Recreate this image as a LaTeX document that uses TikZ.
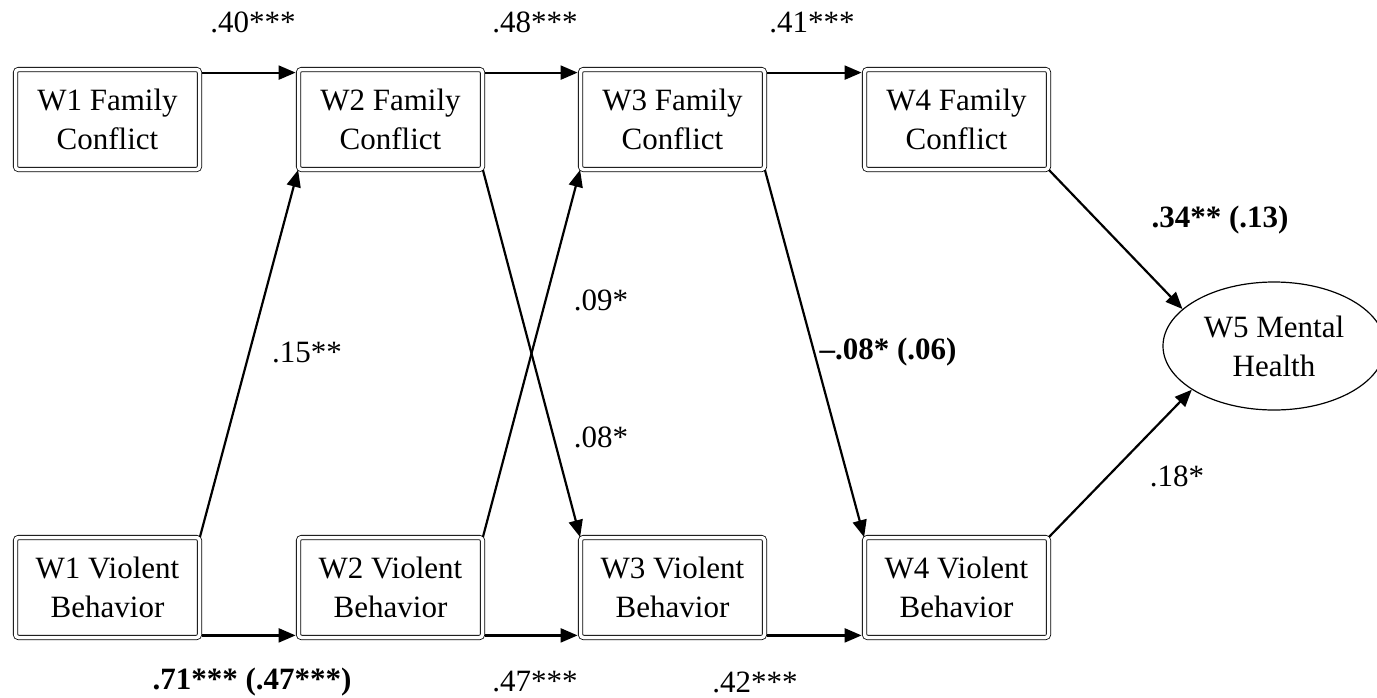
\documentclass[tikz,border=0pt]{standalone}
\usepackage{fontspec}
\setmainfont{Liberation Serif}
\usetikzlibrary{arrows.meta,shapes.geometric,calc}
\begin{document}
\begin{tikzpicture}[x=1pt,y=-1pt,
  varbox/.style={draw,double,double distance=3.5pt,line width=0.8pt,
    rounded corners=3pt,minimum width=184pt,minimum height=100pt,
    inner sep=0pt,align=center,font=\fontsize{31}{39}\selectfont},
  outcome/.style={draw,ellipse,line width=1.2pt,minimum width=222pt,
    minimum height=128pt,inner sep=0pt,align=center,
    font=\fontsize{31}{39}\selectfont},
  link/.style={line width=2.2pt,-{Triangle[length=17pt,width=14pt]}},
  coef/.style={inner sep=0pt,font=\fontsize{31}{37}\selectfont}
]
\useasboundingbox (0,0) rectangle (1377,697);

% wave-by-wave family conflict (top) and violent behaviour (bottom)
\node[varbox] (w1f) at (107.5,119.5) {W1 Family\\Conflict};
\node[varbox] (w2f) at (390.5,119.5) {W2 Family\\Conflict};
\node[varbox] (w3f) at (672.5,119.5) {W3 Family\\Conflict};
\node[varbox] (w4f) at (956.5,119.5) {W4 Family\\Conflict};
\node[varbox] (w1v) at (107.5,587.5) {W1 Violent\\Behavior};
\node[varbox] (w2v) at (390.5,587.5) {W2 Violent\\Behavior};
\node[varbox] (w3v) at (672.5,587.5) {W3 Violent\\Behavior};
\node[varbox] (w4v) at (956.5,587.5) {W4 Violent\\Behavior};
\node[outcome] (w5) at (1274,346) {W5 Mental\\Health};

% stability paths
\draw[link] ($(w1f.north east)+(2.5,3.5)$) -- ($(w2f.north west)+(-2.5,3.5)$);
\draw[link] ($(w2f.north east)+(2.5,3.5)$) -- ($(w3f.north west)+(-2.5,3.5)$);
\draw[link] ($(w3f.north east)+(2.5,3.5)$) -- ($(w4f.north west)+(-2.5,3.5)$);
\draw[link] ($(w1v.south east)+(2.5,-2.5)$) -- ($(w2v.south west)+(-2.5,-2.5)$);
\draw[link] ($(w2v.south east)+(2.5,-2.5)$) -- ($(w3v.south west)+(-2.5,-2.5)$);
\draw[link] ($(w3v.south east)+(2.5,-2.5)$) -- ($(w4v.south west)+(-2.5,-2.5)$);

% cross-lagged paths
\draw[link] (w1v.north east) -- (w2f.south west);
\draw[link] (w2f.south east) -- (w3v.north west);
\draw[link] (w2v.north east) -- (w3f.south west);
\draw[link] (w3f.south east) -- (w4v.north west);

% paths to the outcome
\draw[link] (w4f.south east) -- (w5.158);
\draw[link] (w4v.north east) -- (w5.208);

% coefficients
\node[coef] (c1) at (253,22) {.40***};
\node[coef] (c2) at (535,22) {.48***};
\node[coef] (c3) at (812,22) {.41***};
\node[coef] (c4) at (252,682) {\textbf{.71*** (.47***)}};
\node[coef] (c5) at (535,682) {.47***};
\node[coef] (c6) at (755,682) {.42***};
\node[coef] (c7) at (307,352) {.15**};
\node[coef] (c8) at (601,300) {.09*};
\node[coef] (c9) at (601,437) {.08*};
\node[coef] (c10) at (888,352) {\textbf{--.08* (.06)}};
\node[coef] (c11) at (1220,220) {\textbf{.34** (.13)}};
\node[coef] (c12) at (1177,476) {.18*};
\end{tikzpicture}
\end{document}
